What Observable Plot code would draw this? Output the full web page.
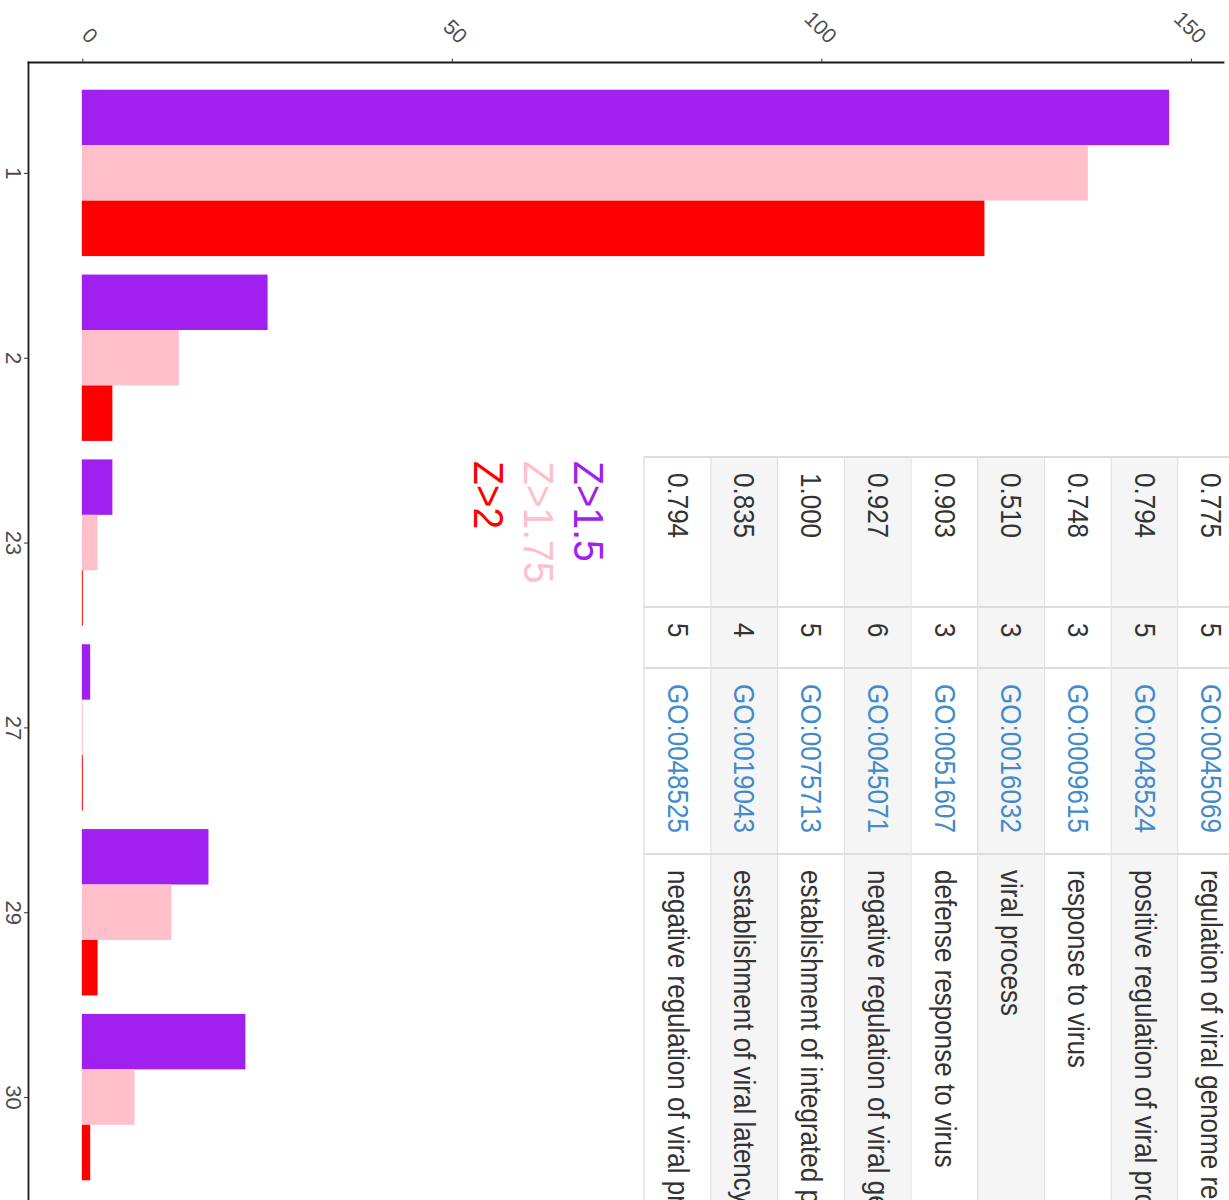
<!DOCTYPE html>
<html>
<head>
<meta charset="utf-8">
<script src="https://cdn.jsdelivr.net/npm/d3@7"></script>
<script src="https://cdn.jsdelivr.net/npm/@observablehq/plot@0.6"></script>
<style>
  html, body { margin: 0; padding: 0; background: #fff; overflow: hidden; }
  body { width: 1229px; height: 1200px; position: relative;
         font-family: "Liberation Sans", Arial, Helvetica, sans-serif; }
  #chart { position: absolute; left: 0; top: 0; }
  .turned { position: absolute; transform-origin: 0 0; }
  #legend { left: 612.5px; top: 461px; transform: rotate(90deg) scale(1, 1.08);
            font-size: 39px; line-height: 46.3px; white-space: nowrap; }
  #go-table { left: 1245px; top: 456px; transform: rotate(90deg) scale(1, 1.15);
              display: grid; grid-template-columns: 150px 61px 186px 760px;
              border-top: 1.7px solid #ddd; border-left: 2px solid #ddd; }
  #go-table .cell { box-sizing: border-box; height: 58.04px; padding-left: 15px;
                    border-right: 2px solid #ddd; border-bottom: 1.7px solid #ddd;
                    display: flex; align-items: center; white-space: nowrap; overflow: hidden;
                    font-size: 26px; color: #333; background: #fff; }
  #go-table .cell.alt { background: #f5f5f5; }
  #go-table a { color: #428bca; text-decoration: none; }
</style>
</head>
<body>
<div id="chart"></div>
<div id="legend" class="turned"></div>
<div id="go-table" class="turned"></div>
<script>
// Cluster ids and the number of genes passing each z-score threshold
const categories = ["1", "2", "23", "27", "29", "30"];
const seriesNames = ["Z>1.5", "Z>1.75", "Z>2"];
const seriesColors = ["#A020F0", "#FFC0CB", "#FF0000"];
const countsZ15 = [147, 25, 4, 1, 17, 22];
const countsZ175 = [136, 13, 2, 0, 12, 7];
const countsZ2 = [122, 4, 0, 0, 2, 1];
const xTicks = [0, 50, 100, 150];

// GO enrichment table
const goScores = ["0.775", "0.794", "0.748", "0.510", "0.903", "0.927", "1.000", "0.835", "0.794"];
const goCounts = [5, 5, 3, 3, 3, 6, 5, 4, 5];
const goIds = ["GO:0045069", "GO:0048524", "GO:0009615", "GO:0016032", "GO:0051607",
               "GO:0045071", "GO:0075713", "GO:0019043", "GO:0048525"];
const goTerms = ["regulation of viral genome replication",
                 "positive regulation of viral process",
                 "response to virus",
                 "viral process",
                 "defense response to virus",
                 "negative regulation of viral genome replication",
                 "establishment of integrated proviral latency",
                 "establishment of viral latency",
                 "negative regulation of viral process"];

const seriesValues = [countsZ15, countsZ175, countsZ2];
const rows = categories.flatMap((cat, i) =>
  seriesNames.map((series, j) => ({cat, series, value: seriesValues[j][i]})));

const W = 1229, H = 1230;
const margin = {top: 62, right: 6, bottom: 22, left: 28};
const yPadInner = 0.1, yPadOuter = 0.15;

const xMax = d3.max(rows, d => d.value);
const xPad = xMax * 0.05;

// sub-band height for dodging the three series inside each cluster band
const yBand = d3.scaleBand(categories, [margin.top, H - margin.bottom])
  .paddingInner(yPadInner).paddingOuter(yPadOuter);
const sub = yBand.bandwidth() / seriesNames.length;
const n = seriesNames.length;

const plot = Plot.plot({
  width: W,
  height: H,
  marginTop: margin.top,
  marginRight: margin.right,
  marginBottom: margin.bottom,
  marginLeft: margin.left,
  style: {fontFamily: "'Liberation Sans', Arial, sans-serif", fontSize: "21px",
          background: "transparent", overflow: "visible"},
  x: {domain: [-xPad, xMax + xPad], label: null},
  y: {domain: categories, paddingInner: yPadInner, paddingOuter: yPadOuter, round: false, label: null},
  marks: [
    ...seriesNames.map((s, j) => Plot.barX(rows.filter(d => d.series === s), {
      x: "value", y: "cat", fill: seriesColors[j],
      insetTop: j * sub, insetBottom: (n - 1 - j) * sub,
      insetLeft: -0.5, insetRight: -0.5
    })),
    Plot.frame({anchor: "left", stroke: "#1a1a1a", strokeWidth: 1.8}),
    Plot.frame({anchor: "top", stroke: "#1a1a1a", strokeWidth: 1.8}),
    // tick marks on the value axis
    Plot.axisX({anchor: "top", ticks: xTicks, tickSize: 4.5, tickFormat: () => "",
                stroke: "#333", label: null}),
    // slanted tick labels, set off from the ticks
    Plot.axisX({anchor: "top", ticks: xTicks, tickSize: 0, tickPadding: 7.5, tickRotate: 45,
                fontSize: 21, dx: 11, dy: -15, fill: "#4d4d4d", label: null}),
    Plot.axisY({anchor: "left", tickSize: 4, tickPadding: 3, tickRotate: 90,
                fontSize: 22, fill: "#4d4d4d", stroke: "#333", label: null})
  ]
});
document.getElementById("chart").append(plot);

// legend: one coloured line per threshold
const legend = document.getElementById("legend");
seriesNames.forEach((s, j) => {
  const line = document.createElement("div");
  line.textContent = s;
  line.style.color = seriesColors[j];
  legend.append(line);
});

// table of enriched GO terms
const table = document.getElementById("go-table");
goIds.forEach((id, i) => {
  const cells = [goScores[i], String(goCounts[i]), null, goTerms[i]];
  cells.forEach((txt, k) => {
    const cell = document.createElement("div");
    cell.className = "cell" + (i % 2 === 1 ? " alt" : "");
    if (k === 2) {
      const a = document.createElement("a");
      a.href = "#";
      a.textContent = id;
      cell.append(a);
    } else {
      cell.textContent = txt;
    }
    table.append(cell);
  });
});
</script>
</body>
</html>
